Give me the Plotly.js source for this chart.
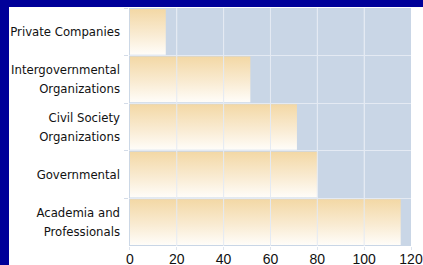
<!DOCTYPE html>
<html>
<head>
<meta charset="utf-8">
<script src="https://cdn.plot.ly/plotly-3.0.1.min.js"></script>
<style>
html,body{margin:0;padding:0;background:#000099;width:423px;height:265px;overflow:hidden;}
#chart{position:absolute;left:9px;top:7px;width:414px;height:258px;background:#fff;}
</style>
</head>
<body>
<div id="chart"></div>
<script>
const categories = ["Private Companies", "Intergovernmental<br>Organizations", "Civil Society<br>Organizations", "Governmental", "Academia and<br>Professionals"];
const values = [15.3, 51.4, 71.3, 80.1, 115.6];
const xTicks = [0, 20, 40, 60, 80, 100, 120];

const trace = {
  type: 'bar',
  orientation: 'h',
  y: categories,
  x: values,
  marker: {color: '#f6e3c0', line: {width: 0}},
  hoverinfo: 'none'
};

const gridShapes = xTicks.slice(1, -1).map(function(v){
  return {type: 'line', xref: 'x', yref: 'paper', x0: v, x1: v, y0: 0, y1: 1,
          line: {color: '#e4eaf3', width: 1}, layer: 'above'};
});

const layout = {
  width: 414, height: 258,
  margin: {l: 120, r: 12, t: 1, b: 19},
  paper_bgcolor: '#ffffff',
  plot_bgcolor: '#c9d6e6',
  bargap: 0.04,
  showlegend: false,
  shapes: gridShapes,
  xaxis: {
    range: [-0.4, 120],
    tickvals: xTicks,
    ticktext: xTicks.map(String),
    showgrid: true, gridcolor: '#e4eaf3', gridwidth: 1,
    zeroline: false, showline: false,
    ticks: 'outside', ticklen: 3, tickcolor: '#dde4ee',
    ticklabelstandoff: -3,
    tickfont: {family: 'Liberation Sans, Arial, sans-serif', size: 14, color: '#111'},
    fixedrange: true
  },
  yaxis: {
    type: 'category',
    autorange: 'reversed',
    tickson: 'boundaries',
    showgrid: true, gridcolor: '#e4eaf3', gridwidth: 1,
    ticks: 'outside', ticklen: 4, tickcolor: '#d4dce8',
    ticklabelstandoff: 8,
    showline: false, zeroline: false,
    tickfont: {family: 'DejaVu Sans Condensed, Liberation Sans Narrow, sans-serif', size: 13, color: '#111'},
    fixedrange: true
  }
};

Plotly.newPlot('chart', [trace], layout, {staticPlot: true}).then(function(gd){
  const svg = gd.querySelector('svg.main-svg');
  const ns = 'http://www.w3.org/2000/svg';
  let defs = svg.querySelector('defs');
  if (!defs) { defs = document.createElementNS(ns, 'defs'); svg.insertBefore(defs, svg.firstChild); }
  const g = document.createElementNS(ns, 'linearGradient');
  g.setAttribute('id', 'barGrad');
  g.setAttribute('x1', '0'); g.setAttribute('y1', '0');
  g.setAttribute('x2', '0'); g.setAttribute('y2', '1');
  [['0', '#f3d8a5'], ['0.55', '#f9ebd2'], ['1', '#fffdf9']].forEach(function(s){
    const st = document.createElementNS(ns, 'stop');
    st.setAttribute('offset', s[0]); st.setAttribute('stop-color', s[1]);
    g.appendChild(st);
  });
  defs.appendChild(g);
  gd.querySelectorAll('.bars .point path').forEach(function(p){ p.style.fill = 'url(#barGrad)'; });
  // wider line spacing in the two-line category labels
  gd.querySelectorAll('.ytick text').forEach(function(t){
    const lines = t.querySelectorAll('tspan.line');
    if (lines.length === 2) {
      lines[1].setAttribute('dy', '19px');
      t.setAttribute('transform', (t.getAttribute('transform') || '') + ' translate(0,-1.5)');
    }
  });
});
</script>
</body>
</html>
